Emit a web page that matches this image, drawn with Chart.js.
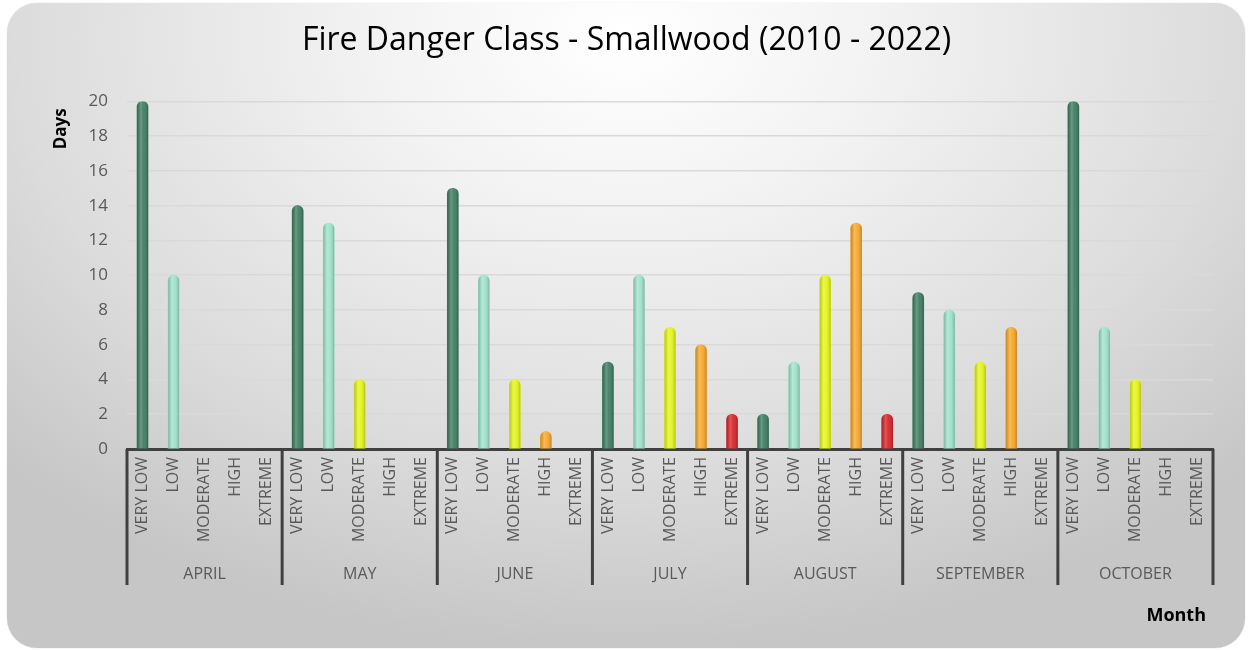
<!DOCTYPE html>
<html><head><meta charset="utf-8">
<script src="https://cdn.jsdelivr.net/npm/chart.js@4.4.1/dist/chart.umd.min.js"></script>
<style>
html,body{margin:0;padding:0;background:#fff;width:1251px;height:650px;overflow:hidden;}
#card{position:absolute;left:7px;top:3px;width:1238px;height:645px;border-radius:30px;
background:radial-gradient(ellipse 70% 95% at 50% 5%, #ffffff 0%, #f2f2f2 30%, #dcdcdc 70%, #c6c6c6 100%);
box-shadow:0 0 1px #bbb;}
#wrap{position:absolute;left:0;top:0;width:1251px;height:650px;}
</style></head>
<body><div id="card"></div><div id="wrap"><canvas id="c" width="1251" height="650"></canvas></div>
<script>
const months = ["APRIL","MAY","JUNE","JULY","AUGUST","SEPTEMBER","OCTOBER"];
const classes = ["VERY LOW","LOW","MODERATE","HIGH","EXTREME"];
const classColors = ["#3f7d62","#9fe3cb","#e4f51a","#f7a82a","#d8252a"];
const veryLow  = [20,14,15,5,2,9,20];
const low      = [10,13,10,10,5,8,7];
const moderate = [0,4,4,7,10,5,4];
const high     = [0,0,1,6,13,7,0];
const extreme  = [0,0,0,2,2,0,0];
const yTicks = [0,2,4,6,8,10,12,14,16,18,20];
const yTitle = "Days";
const xTitle = "Month";

const series = [veryLow,low,moderate,high,extreme];
const labels = [], values = [], colors = [];
months.forEach((m,mi)=>{
  classes.forEach((c,ci)=>{
    labels.push(c);
    values.push(series[ci][mi]);
    colors.push(series[ci][mi] ? classColors[ci] : 'rgba(0,0,0,0)');
  });
});

const decor = {
  id:'decor',
  afterDatasetsDraw(chart){
    const ctx = chart.ctx;
    const meta = chart.getDatasetMeta(0);
    meta.data.forEach((bar,i)=>{
      if(!values[i]) return;
      const w = bar.width, x0 = bar.x - w/2;
      const g = ctx.createLinearGradient(x0,0,x0+w,0);
      g.addColorStop(0,'rgba(0,0,0,0.18)');
      g.addColorStop(0.35,'rgba(255,255,255,0.22)');
      g.addColorStop(0.6,'rgba(255,255,255,0.05)');
      g.addColorStop(1,'rgba(0,0,0,0.22)');
      ctx.save();
      ctx.beginPath();
      const top = bar.y, bot = bar.base, r = w/2;
      ctx.moveTo(x0,bot);
      ctx.lineTo(x0,top+r);
      ctx.arc(bar.x,top+r,r,Math.PI,0);
      ctx.lineTo(x0+w,bot);
      ctx.closePath();
      ctx.fillStyle = g;
      ctx.fill();
      ctx.restore();
    });
  },
  afterDraw(chart){
    const ctx = chart.ctx, xs = chart.scales.x, area = chart.chartArea;
    ctx.save();
    ctx.strokeStyle = '#404040';
    ctx.lineWidth = 3;
    for(let m=0;m<=months.length;m++){
      const x = xs.getPixelForValue(m*classes.length - 0.5);
      ctx.beginPath();
      ctx.moveTo(x, area.bottom);
      ctx.lineTo(x, area.bottom + 136);
      ctx.stroke();
    }
    ctx.fillStyle = '#595959';
    ctx.font = '16px "Open Sans"';
    ctx.textAlign = 'center';
    ctx.textBaseline = 'middle';
    months.forEach((m,mi)=>{
      const x = xs.getPixelForValue(mi*classes.length + 2);
      ctx.fillText(m, x, area.bottom + 125);
    });
    ctx.fillStyle = '#000';
    ctx.font = 'bold 18px "Open Sans"';
    ctx.textAlign = 'right';
    ctx.fillText(xTitle, area.right - 7, area.bottom + 167);
    // y axis title, near top like the source
    ctx.save();
    ctx.translate(area.left - 66, area.top + 7);
    ctx.rotate(-Math.PI/2);
    ctx.font = 'bold 17px "Open Sans"';
    ctx.textAlign = 'right';
    ctx.textBaseline = 'middle';
    ctx.fillText(yTitle, 0, 0);
    ctx.restore();
    ctx.restore();
  }
};

new Chart(document.getElementById('c'), {
  type:'bar',
  data:{labels, datasets:[{data:values, backgroundColor:colors, barThickness:11,
    borderRadius:{topLeft:5.5,topRight:5.5,bottomLeft:0,bottomRight:0}, borderSkipped:false}]},
  options:{
    responsive:false, animation:false,
    layout:{padding:{left:40,right:38,top:20,bottom:11}},
    plugins:{
      legend:{display:false}, tooltip:{enabled:false},
      title:{display:true, text:'Fire Danger Class - Smallwood (2010 - 2022)', color:'#000',
        font:{family:'"Open Sans"', size:32, weight:'normal'}, padding:{top:2,bottom:41}}
    },
    scales:{
      y:{min:0,max:20,
        afterBuildTicks(s){ s.ticks = yTicks.map(v=>({value:v})); },
        afterFit(s){ s.width = 87; },
        ticks:{color:'#595959', font:{family:'"Open Sans"', size:17}, padding:19},
        grid:{color:'#d9d9d9', lineWidth:1.5, drawTicks:false},
        border:{display:false},
        title:{display:false}
      },
      x:{
        afterFit(s){ s.height = 190; },
        ticks:{color:'#595959', font:{family:'"Open Sans"', size:16}, minRotation:90, maxRotation:90, autoSkip:false, padding:8},
        grid:{display:false, drawTicks:false},
        border:{display:true, color:'#404040', width:3}
      }
    }
  },
  plugins:[decor]
});
</script></body></html>
